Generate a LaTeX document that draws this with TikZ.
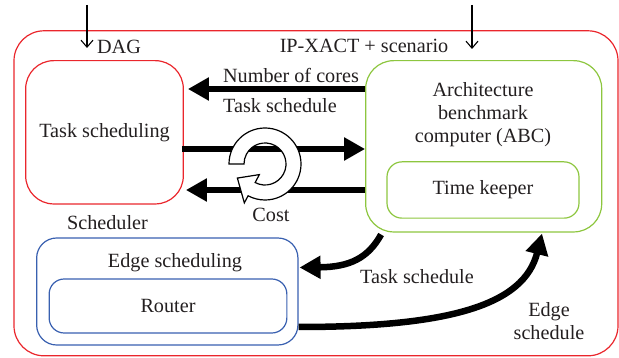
\documentclass[tikz,border=0pt]{standalone}
\usepackage{fontspec}
\setmainfont{Liberation Serif}
\usetikzlibrary{arrows.meta,calc}
\definecolor{outerred}{RGB}{234,38,44}
\definecolor{abcgreen}{RGB}{141,198,63}
\definecolor{edgeblue}{RGB}{57,96,176}
\definecolor{ink}{RGB}{35,31,32}
\begin{document}
\begin{tikzpicture}[x=1pt,y=-1pt,
  every node/.style={font=\fontsize{20.2}{23}\selectfont, text=ink},
  panel/.style={draw, rounded corners=#1, line width=1.2pt, inner sep=0pt},
  thinarrow/.style={line width=1.1pt, -{Straight Barb[length=7pt,width=12pt]}},
  bigarrow/.style={line width=6.5pt, -{Triangle[length=21pt,width=22pt]}}]
\useasboundingbox (0,0) rectangle (619,358);

% enclosing scheduler frame
\node[panel=30pt, draw=outerred, minimum width=604pt, minimum height=325pt] (outer) at (316,193.3) {};

% task scheduling block
\node[panel=28pt, draw=outerred, minimum width=157.6pt, minimum height=143.3pt] (task) at (104.5,132.3) {Task scheduling};

% architecture benchmark computer
\node[panel=28pt, draw=abcgreen, minimum width=236pt, minimum height=171.3pt] (abc) at (483.7,146.3) {};
\node[align=center] (abclabel) at (483,115) {Architecture\\benchmark\\computer (ABC)};
\node[panel=15pt, draw=abcgreen, minimum width=192pt, minimum height=56.3pt] (keeper) at (483,190) {Time keeper};

% edge scheduling block
\node[panel=20pt, draw=edgeblue, minimum width=261.3pt, minimum height=107pt] (edge) at (167.3,291.5) {};
\node (edgelabel) at (175,263) {Edge scheduling};
\node[panel=15pt, draw=edgeblue, minimum width=237.7pt, minimum height=54pt] (router) at (168,306) {Router};

% labels
\node (dag) at (119,47) {DAG};
\node (ipxact) at (364,46) {IP-XACT + scenario};
\node (cores) at (291,75) {Number of cores};
\node (schedtop) at (280,106) {Task schedule};
\node (cost) at (271,215) {Cost};
\node (scheduler) at (107.5,223) {Scheduler};
\node (schedlow) at (417,277) {Task schedule};
\node[align=center] (edgesched) at (549,321) {Edge\\schedule};

% inputs from above
\coordinate (dagin) at (87,5);
\coordinate (dagend) at (87,48);
\coordinate (ipin) at (472,5);
\coordinate (ipend) at (472,49);
\draw[thinarrow] (dagin) -- (dagend);
\draw[thinarrow] (ipin) -- (ipend);

% exchanges between task scheduling and ABC
\draw[bigarrow] ([yshift=57.3pt]abc.west) -- ([xshift=4pt,yshift=43.3pt]task.east);
\draw[bigarrow] ([xshift=-2pt,yshift=-16.7pt]task.east) -- ([yshift=-2.7pt]abc.west);
\draw[bigarrow] ([yshift=-43.7pt]abc.west) -- ([xshift=2pt,yshift=-57.7pt]task.east);

% iteration loop
\coordinate (ringc) at (265,164);
\draw[line width=1.2pt, fill=white]
  ($(ringc)+(180:36)$) arc[start angle=180, end angle=478, radius=36]
  -- ($(ringc)+(478:44)$) -- ($(ringc)+(153:31)$) -- ($(ringc)+(478:12)$)
  -- ($(ringc)+(478:21)$) arc[start angle=478, end angle=180, radius=21]
  -- cycle;

% schedules towards edge scheduling and back
\draw[bigarrow] ($(abc.south west)+(16,2)$) .. controls (368,258) and (350,267) .. ($(edge.east)+(1,-24)$);
\draw[bigarrow] ($(edge.east)+(0,35.5)$) .. controls (450,327) and (524,305) .. ($(abc.south)+(58.3,1)$);
\end{tikzpicture}
\end{document}
